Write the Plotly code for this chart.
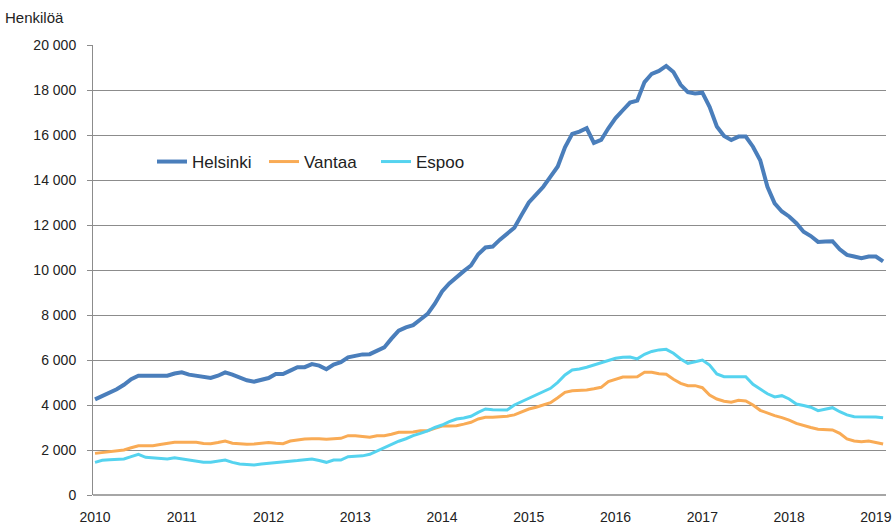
import plotly.graph_objects as go

years = ["2010", "2011", "2012", "2013", "2014", "2015", "2016", "2017", "2018", "2019"]

# Monthly values, Jan 2010 - Feb 2019
helsinki = [
    4250, 4400, 4550, 4700, 4900, 5150, 5300, 5300, 5300, 5300, 5300, 5400,
    5450, 5350, 5300, 5250, 5200, 5300, 5450, 5350, 5230, 5100, 5040, 5100,
    5200, 5380, 5380, 5530, 5680, 5680, 5820, 5750, 5590, 5800, 5900, 6120,
    6200, 6250, 6260, 6400, 6560, 6950, 7300, 7450, 7550, 7800, 8050, 8500,
    9050, 9400, 9700, 9950, 10200, 10700, 11000, 11040, 11350, 11600, 11880, 12450,
    13000, 13350, 13700, 14150, 14600, 15450, 16050, 16150, 16300, 15650, 15780, 16300,
    16750, 17100, 17440, 17530, 18350, 18720, 18850, 19070, 18800, 18230, 17900, 17850,
    17880, 17250, 16380, 15960, 15780, 15930, 15930, 15480, 14880, 13700, 12960, 12600,
    12380, 12080, 11700, 11510, 11250, 11270, 11280, 10920, 10670, 10600, 10520, 10600,
    10600, 10380,
]
vantaa = [
    1850, 1890, 1926, 1960, 2000, 2100, 2190, 2193, 2193, 2240, 2290, 2340,
    2341, 2341, 2341, 2290, 2280, 2330, 2400, 2300, 2280, 2252, 2270, 2296,
    2330, 2300, 2280, 2400, 2460, 2489, 2500, 2504, 2474, 2500, 2519, 2637,
    2637, 2600, 2563, 2637, 2637, 2700, 2785, 2785, 2800, 2859, 2859, 2960,
    3067, 3067, 3081, 3150, 3230, 3380, 3452, 3460, 3467, 3500, 3560, 3700,
    3822, 3900, 4000, 4104, 4326, 4563, 4637, 4650, 4667, 4720, 4785, 5037,
    5150, 5244, 5250, 5259, 5452, 5452, 5393, 5363, 5141, 4963, 4859, 4859,
    4770, 4444, 4267, 4170, 4119, 4207, 4178, 4000, 3763, 3640, 3526, 3437,
    3330, 3185, 3080, 3000, 2919, 2900, 2889, 2741, 2489, 2400, 2370, 2400,
    2330, 2267,
]
espoo = [
    1452, 1540, 1570, 1585, 1600, 1704, 1807, 1674, 1659, 1620, 1600, 1659,
    1600, 1556, 1500, 1452, 1452, 1500, 1556, 1450, 1380, 1360, 1333, 1380,
    1407, 1450, 1470, 1481, 1530, 1570, 1600, 1530, 1452, 1556, 1556, 1704,
    1720, 1740, 1807, 1950, 2100, 2260, 2390, 2500, 2640, 2741, 2850, 3000,
    3111, 3259, 3378, 3420, 3500, 3674, 3822, 3790, 3778, 3778, 4000, 4150,
    4296, 4440, 4600, 4741, 5007, 5333, 5556, 5600, 5680, 5778, 5900, 6000,
    6074, 6120, 6133, 6050, 6252, 6380, 6450, 6474, 6300, 6044, 5852, 5920,
    6000, 5778, 5378, 5259, 5259, 5280, 5259, 4919, 4700, 4500, 4356, 4415,
    4267, 4044, 3980, 3900, 3748, 3800, 3881, 3700, 3560, 3481, 3481, 3481,
    3470, 3437,
]

series_names = ["Helsinki", "Vantaa", "Espoo"]
series_values = [helsinki, vantaa, espoo]
series_colors = ["#4a7ebb", "#f9ab55", "#55d3ef"]
series_widths = [4, 3, 3]

months = list(range(len(helsinki)))
year_ticks = [i * 12 for i in range(len(years))]
y_ticks = list(range(0, 20001, 2000))

fig = go.Figure()
for name, vals, color, w in zip(series_names, series_values, series_colors, series_widths):
    fig.add_trace(go.Scatter(x=months, y=vals, mode="lines", name=name,
                             line=dict(color=color, width=w)))

# white legend background box covering gridlines (as in the original)
fig.add_shape(type="rect", xref="paper", yref="paper",
              x0=0.053, x1=0.482, y0=0.66, y1=0.822,
              fillcolor="white", line=dict(width=0), layer="between")

fig.update_layout(
    width=893, height=525,
    margin=dict(l=93, r=7, t=45, b=30),
    plot_bgcolor="white", paper_bgcolor="white",
    font=dict(family="Liberation Sans", size=14, color="#222222"),
    separators=", ",
    showlegend=True,
    legend=dict(orientation="h", x=0.0744, y=0.74, xanchor="left", yanchor="middle",
                bgcolor="rgba(0,0,0,0)", font=dict(size=17, color="#222222"),
                entrywidth=67, entrywidthmode="pixels"),
    annotations=[dict(text="Henkilöä", xref="paper", yref="paper", x=-0.113, y=1.06,
                      xanchor="left", yanchor="middle", showarrow=False,
                      font=dict(size=15, color="#222222"))],
)
fig.update_xaxes(range=[-0.28, 109.4], tickvals=year_ticks, ticktext=years,
                 showgrid=False, showline=False, zeroline=False, ticks="",
                 ticklabelstandoff=12, automargin=False)
fig.update_yaxes(range=[0, 20000], tickvals=y_ticks, tickformat=",d",
                 showgrid=True, gridcolor="#8c8c8c", gridwidth=1,
                 showline=True, linecolor="#8c8c8c", linewidth=1,
                 ticks="outside", ticklen=5, tickcolor="#8c8c8c",
                 ticklabelstandoff=8, automargin=False,
                 zeroline=True, zerolinecolor="#a6a6a6", zerolinewidth=2)

fig.write_html("out.html", config={"displayModeBar": False},
               post_script="document.body.style.margin='0';")
